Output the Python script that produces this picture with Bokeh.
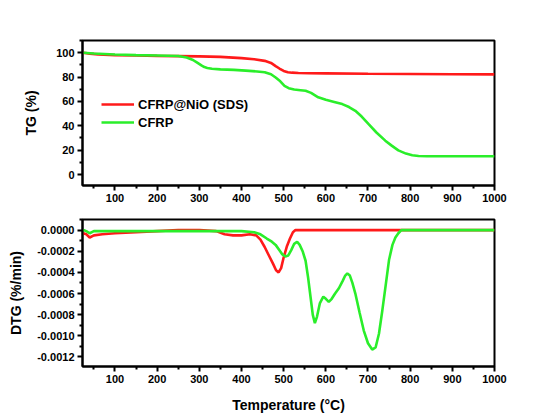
from bokeh.plotting import figure
from bokeh.layouts import column
from bokeh.models import Range1d, FixedTicker, PrintfTickFormatter, Legend, LegendItem
from bokeh.embed import file_html
from bokeh.resources import INLINE

# ---- TG data ----
tg_nio_t = [25, 40, 60, 100, 150, 200, 250, 300, 350, 400, 430, 455, 470, 481, 490, 500, 510, 520, 535, 560, 600, 700, 800, 900, 1000]
tg_nio_v = [100, 99.2, 98.6, 98.0, 97.7, 97.4, 97.2, 97.0, 96.6, 95.5, 94.6, 93.3, 91.6, 89.0, 87.0, 85.0, 84.0, 83.6, 83.3, 83.1, 83.0, 82.7, 82.5, 82.3, 82.2]

tg_cfrp_t = [25, 50, 100, 150, 200, 250, 270, 285, 295, 305, 312, 319, 330, 350, 382, 410, 437, 455, 470, 481, 492, 502, 512, 525, 540, 552, 565, 582, 600, 620, 639, 655, 670, 685, 701, 720, 741, 757, 772, 790, 805, 820, 840, 870, 900, 950, 1000]
tg_cfrp_v = [100, 99.3, 98.5, 98.0, 97.7, 97.3, 96.0, 94.0, 91.8, 89.6, 88.2, 87.5, 86.8, 86.3, 85.9, 85.3, 84.6, 84.0, 82.3, 79.6, 76.5, 72.8, 70.9, 69.8, 69.2, 68.7, 67.0, 63.4, 61.4, 59.6, 57.8, 55.4, 52.3, 47.6, 41.5, 34.5, 27.8, 23.5, 19.8, 17.2, 15.8, 15.2, 15.0, 15.0, 15.0, 15.0, 15.0]

# ---- DTG data ----
dtg_nio_t = [25, 32, 40, 50, 70, 100, 150, 200, 250, 300, 340, 360, 380, 400, 420, 435, 445, 455, 465, 475, 482, 488, 494, 500, 508, 515, 522, 528, 560, 700, 800, 900, 1000]
dtg_nio_v = [-0.00003, -0.00004, -0.00007, -0.00005, -0.00004, -0.00003, -0.00002, -0.00001, 0.0, 0.0, -0.00001, -0.00004, -0.00005, -0.00005, -0.00004, -0.00005, -0.00009, -0.00016, -0.00024, -0.00032, -0.00038, -0.0004, -0.00036, -0.00026, -0.00015, -0.00008, -0.00002, 0.0, 0.0, 0.0, 0.0, 0.0, 0.0]

dtg_cfrp_t = [25, 32, 40, 50, 70, 100, 200, 300, 400, 430, 445, 460, 472, 481, 490, 497, 504, 511, 518, 525, 532, 538, 545, 552, 558, 564, 569, 574, 579, 586, 594, 600, 607, 614, 622, 631, 640, 646, 651, 657, 663, 670, 680, 690, 700, 710, 718, 726, 734, 742, 750, 758, 765, 772, 779, 800, 900, 1000]
dtg_cfrp_v = [0.0, -0.00001, -0.00003, -0.00001, -0.00001, -0.00001, -0.00001, -0.00001, -0.00001, -0.00002, -0.00004, -0.00008, -0.00011, -0.00014, -0.00019, -0.00023, -0.00025, -0.00024, -0.00019, -0.00013, -0.00011, -0.00014, -0.0002, -0.00029, -0.00045, -0.00064, -0.0008, -0.00088, -0.00082, -0.00069, -0.00063, -0.00065, -0.00068, -0.00065, -0.0006, -0.00055, -0.00048, -0.00043, -0.00041, -0.00043, -0.0005, -0.0006, -0.00078, -0.00095, -0.00107, -0.00113, -0.00111, -0.00098, -0.00076, -0.00052, -0.00028, -0.00014, -0.00007, -0.00003, 0.0, 0.0, 0.0, 0.0]

x_ticks = [100, 200, 300, 400, 500, 600, 700, 800, 900, 1000]
x_minor = [50, 150, 250, 350, 450, 550, 650, 750, 850, 950]
tg_ticks = [0, 20, 40, 60, 80, 100]
tg_minor = [-10, 10, 30, 50, 70, 90, 110]
dtg_ticks = [0.0, -0.0002, -0.0004, -0.0006, -0.0008, -0.0010, -0.0012]
dtg_minor = [0.0001, -0.0001, -0.0003, -0.0005, -0.0007, -0.0009, -0.0011]

RED = "#ff1a1a"
GREEN = "#2aee2a"
FONT = "Liberation Sans"


def style(p, yticks, yminor):
    p.xaxis.ticker = FixedTicker(ticks=x_ticks, minor_ticks=x_minor)
    p.yaxis.ticker = FixedTicker(ticks=yticks, minor_ticks=yminor)
    for ax in [p.xaxis[0], p.yaxis[0]]:
        ax.axis_line_width = 2
        ax.axis_line_color = "black"
        ax.major_tick_line_width = 2
        ax.minor_tick_line_width = 2
        ax.major_tick_out = 5
        ax.major_tick_in = 0
        ax.minor_tick_out = 3
        ax.minor_tick_in = 0
        ax.major_label_text_font = FONT
        ax.major_label_text_font_style = "bold"
        ax.major_label_text_font_size = "11px"
        ax.major_label_text_color = "black"
        ax.axis_label_text_font = FONT
        ax.axis_label_text_font_style = "bold"
        ax.axis_label_text_font_size = "14px"
        ax.axis_label_text_color = "black"
        ax.major_label_standoff = 3
    p.xgrid.visible = False
    p.ygrid.visible = False
    p.outline_line_color = "black"
    p.outline_line_width = 2
    p.outline_line_alpha = 1


p1 = figure(width=534, height=210, output_backend="svg", toolbar_location=None,
            x_range=Range1d(23, 1000), y_range=Range1d(-9, 110),
            min_border_left=82, min_border_right=40, min_border_top=40, min_border_bottom=25)
style(p1, tg_ticks, tg_minor)
p1.yaxis.axis_label = "TG (%)"
p1.yaxis.axis_label_standoff = 14
r1 = p1.line(tg_nio_t, tg_nio_v, line_color=RED, line_width=2.6)
r2 = p1.line(tg_cfrp_t, tg_cfrp_v, line_color=GREEN, line_width=2.6)
leg = Legend(items=[LegendItem(label="CFRP@NiO (SDS)", renderers=[r1]),
                    LegendItem(label="CFRP", renderers=[r2])],
             location=(19, 54), border_line_color=None, background_fill_alpha=0,
             padding=0, margin=0, spacing=0, glyph_width=33, glyph_height=18,
             label_height=18, label_standoff=4,
             label_text_font=FONT, label_text_font_style="bold",
             label_text_font_size="13px", label_text_color="black")
p1.add_layout(leg)

p2 = figure(width=534, height=205, output_backend="svg", toolbar_location=None,
            x_range=Range1d(23, 1000), y_range=Range1d(-0.00129, 0.0001),
            min_border_left=82, min_border_right=40, min_border_top=9, min_border_bottom=49)
style(p2, dtg_ticks, dtg_minor)
p2.yaxis.formatter = PrintfTickFormatter(format="%.4f")
p2.yaxis.axis_label = "DTG (%/min)"
p2.yaxis.axis_label_standoff = 10
p2.xaxis.axis_label = "Temperature (°C)"
p2.xaxis.axis_label_standoff = 11
p2.line(dtg_nio_t, dtg_nio_v, line_color=RED, line_width=2.6)
p2.line(dtg_cfrp_t, dtg_cfrp_v, line_color=GREEN, line_width=2.6)

layout = column(p1, p2, spacing=0)
open("out.html", "w").write(file_html(layout, INLINE))
